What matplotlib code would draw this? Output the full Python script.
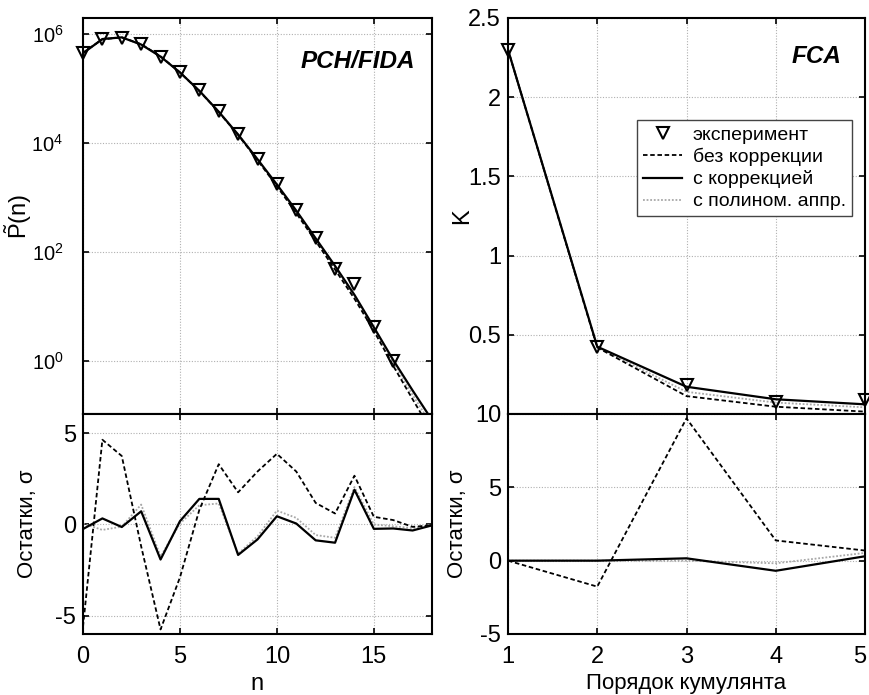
import numpy as np
import matplotlib
matplotlib.use("Agg")
import matplotlib.pyplot as plt
from matplotlib.ticker import FixedLocator, NullLocator
from matplotlib.transforms import ScaledTranslation

plt.rcParams['font.family'] = ['Liberation Sans', 'DejaVu Sans']
plt.rcParams['mathtext.fontset'] = 'custom'
plt.rcParams['mathtext.rm'] = 'Liberation Sans'
plt.rcParams['mathtext.it'] = 'Liberation Sans:italic'
plt.rcParams['mathtext.bf'] = 'Liberation Sans:bold'
plt.rcParams['axes.unicode_minus'] = False

# ---------------- data: PCH/FIDA ----------------
n_exp = list(range(0, 17))
p_exp = [4.5e5, 8.3e5, 8.7e5, 6.6e5, 3.9e5, 2.0e5, 9.4e4, 3.9e4, 1.46e4,
         5.2e3, 1.8e3, 590, 180, 50, 26, 4.2, 1.0]
n_fit = list(range(0, 19))
p_corr = [4.5e5, 8.2e5, 8.8e5, 6.5e5, 3.9e5, 2.0e5, 9.2e4, 3.8e4, 1.45e4,
          5.1e3, 1.75e3, 580, 180, 56, 16.5, 4.2, 1.05, 0.29, 0.083]
p_nocorr = [4.6e5, 8.1e5, 8.8e5, 6.6e5, 3.95e5, 2.0e5, 9.1e4, 3.75e4, 1.42e4,
            4.9e3, 1.62e3, 520, 160, 48, 14.0, 3.6, 0.82, 0.2, 0.05]
p_poly = [4.5e5, 8.25e5, 8.8e5, 6.5e5, 3.9e5, 2.0e5, 9.2e4, 3.8e4, 1.44e4,
          5.0e3, 1.7e3, 560, 172, 52, 15.2, 3.9, 0.92, 0.24, 0.065]

res_corr = [-0.25, 0.33, -0.14, 0.72, -1.92, 0.18, 1.4, 1.4, -1.67, -0.82,
            0.45, 0.05, -0.87, -1.0, 1.9, -0.24, -0.22, -0.33, -0.05]
res_nocorr = [-5.6, 4.64, 3.75, -1.2, -5.75, -2.9, 0.8, 3.3, 1.76, 2.9,
              3.87, 2.9, 1.18, 0.6, 2.67, 0.42, 0.24, -0.13, -0.05]
res_poly = [0.05, -0.3, -0.12, 1.09, -1.75, 0.05, 1.05, 1.15, -1.6, -0.65,
            0.76, 0.36, -0.58, -0.73, 2.05, 0.0, -0.1, -0.2, 0.0]

# ---------------- data: FCA ----------------
order = [1, 2, 3, 4, 5]
k_exp = [2.3, 0.424, 0.183, 0.075, 0.088]
k_corr = [2.3, 0.425, 0.172, 0.093, 0.061]
k_nocorr = [2.3, 0.42, 0.113, 0.046, 0.015]
k_poly = [2.3, 0.422, 0.14, 0.072, 0.042]

r_corr = [0.0, 0.0, 0.16, -0.69, 0.3]
r_nocorr = [0.0, -1.77, 9.7, 1.38, 0.69]
r_poly = [0.0, 0.0, 0.0, -0.18, 0.53]

legend_labels = ['эксперимент', 'без коррекции', 'с коррекцией', 'с полином. аппр.']

# ---------------- styles ----------------
GRID = dict(color='#b0b0b0', linestyle=(0, (1, 1.5)), linewidth=0.8)
DASH = dict(color='black', linestyle=(0, (2.5, 1.5)), linewidth=1.3)
SOLID = dict(color='black', linestyle='-', linewidth=1.6)
POLY = dict(color='#a8a8a8', linestyle=(0, (1, 1)), linewidth=1.3)
MARK = dict(linestyle='none', marker='v', markersize=9, markerfacecolor='none',
            markeredgecolor='black', markeredgewidth=1.5)
TICKFS = 17
LABFS = 16

fig = plt.figure(figsize=(8.69, 6.95), dpi=100)

W, H = 869.0, 695.0
def pos(x0, x1, y0, y1):
    return [x0 / W, 1 - y1 / H, (x1 - x0) / W, (y1 - y0) / H]

axL = fig.add_axes(pos(83, 432, 18, 414))
axLr = fig.add_axes(pos(83, 432, 414, 634))
axR = fig.add_axes(pos(508, 865, 18, 414))
axRr = fig.add_axes(pos(508, 865, 414, 634))

for ax in (axL, axLr, axR, axRr):
    ax.set_axisbelow(True)
    ax.grid(True, **GRID)
    ax.tick_params(direction='in', top=True, right=True, length=4, width=1.2,
                   labelsize=TICKFS)
    ax.tick_params(axis='y', pad=5)
    ax.tick_params(axis='x', pad=8.5)
    for s in ax.spines.values():
        s.set_linewidth(1.5)

# ----- left top -----
axL.set_yscale('log')
axL.plot(n_fit, p_poly, **POLY)
axL.plot(n_fit, p_nocorr, **DASH)
axL.plot(n_fit, p_corr, **SOLID)
axL.plot(n_exp, p_exp, **MARK, clip_on=False, zorder=5)
axL.set_xlim(0, 18)
axL.set_ylim(10 ** -0.97, 10 ** 6.3)
axL.yaxis.set_major_locator(FixedLocator([1e0, 1e2, 1e4, 1e6]))
axL.yaxis.set_minor_locator(NullLocator())
axL.set_yticklabels([r'$10^{0}$', r'$10^{2}$', r'$10^{4}$', r'$10^{6}$'])
axL.tick_params(axis='y', labelsize=14.5, pad=14)
axL.set_xticks([0, 5, 10, 15])
axL.set_xticklabels([])
axL.text(0.951, 0.891, 'PCH/FIDA', transform=axL.transAxes, ha='right', va='center',
         fontsize=17.5, fontweight='bold', fontstyle='italic')
axL.set_ylabel(r'$\tilde{\mathrm{P}}\mathrm{(n)}$', fontsize=LABFS + 1)
axL.yaxis.set_label_coords(-0.14, 0.5)

# ----- left residuals -----
axLr.plot(n_fit, res_poly, **POLY)
axLr.plot(n_fit, res_nocorr, **DASH)
axLr.plot(n_fit, res_corr, **SOLID)
axLr.set_xlim(0, 18)
axLr.set_ylim(-6, 6.05)
axLr.set_yticks([-5, 0, 5])
axLr.set_xticks([0, 5, 10, 15])
axLr.set_xlabel('n', fontsize=LABFS + 1)
axLr.xaxis.set_label_coords(0.5, -0.175)
axLr.set_ylabel('Остатки, σ', fontsize=LABFS)
axLr.yaxis.set_label_coords(-0.129, 0.5)

# ----- right top -----
axR.plot(order, k_poly, **POLY, label=legend_labels[3])
axR.plot(order, k_nocorr, **DASH, label=legend_labels[1])
axR.plot(order, k_corr, **SOLID, label=legend_labels[2])
axR.plot(order, k_exp, **MARK, label=legend_labels[0], clip_on=False, zorder=5)
axR.set_xlim(1, 5)
axR.set_ylim(0, 2.5)
axR.set_yticks([0, 0.5, 1, 1.5, 2, 2.5])
axR.set_yticklabels(['', '0.5', '1', '1.5', '2', '2.5'])
axR.set_xticks([1, 2, 3, 4, 5])
axR.set_xticklabels([])
axR.text(0.935, 0.904, 'FCA', transform=axR.transAxes, ha='right', va='center',
         fontsize=17.5, fontweight='bold', fontstyle='italic')
axR.set_ylabel('K', fontsize=LABFS + 1)
axR.yaxis.set_label_coords(-0.098, 0.5)
h, l = axR.get_legend_handles_labels()
order_idx = [3, 1, 2, 0]
leg = axR.legend([h[i] for i in order_idx], [l[i] for i in order_idx],
                 loc='upper right', bbox_to_anchor=(0.963, 0.742),
                 fontsize=14, frameon=True, fancybox=False, framealpha=1,
                 edgecolor='#444444', handlelength=2.0, handletextpad=0.55,
                 borderpad=0.3, labelspacing=0.22, borderaxespad=0)
leg.get_frame().set_linewidth(1.0)

# ----- right residuals -----
axRr.plot(order, r_poly, **POLY)
axRr.plot(order, r_nocorr, **DASH)
axRr.plot(order, r_corr, **SOLID)
axRr.set_xlim(1, 5)
axRr.set_ylim(-5, 10)
axRr.set_yticks([-5, 0, 5, 10])
axRr.xaxis.set_major_locator(FixedLocator([1, 2, 3, 4, 5]))
axRr.set_xlabel('Порядок кумулянта', fontsize=LABFS)
axRr.xaxis.set_label_coords(0.5, -0.175)
axRr.set_ylabel('Остатки, σ', fontsize=LABFS)
axRr.yaxis.set_label_coords(-0.112, 0.5)

# keep the last tick label ("5") inside the canvas
last = axRr.xaxis.get_major_ticks()[-1].label1
last.set_transform(last.get_transform() + ScaledTranslation(-4 / 72, 0, fig.dpi_scale_trans))

fig.savefig('out.png', dpi=100)
